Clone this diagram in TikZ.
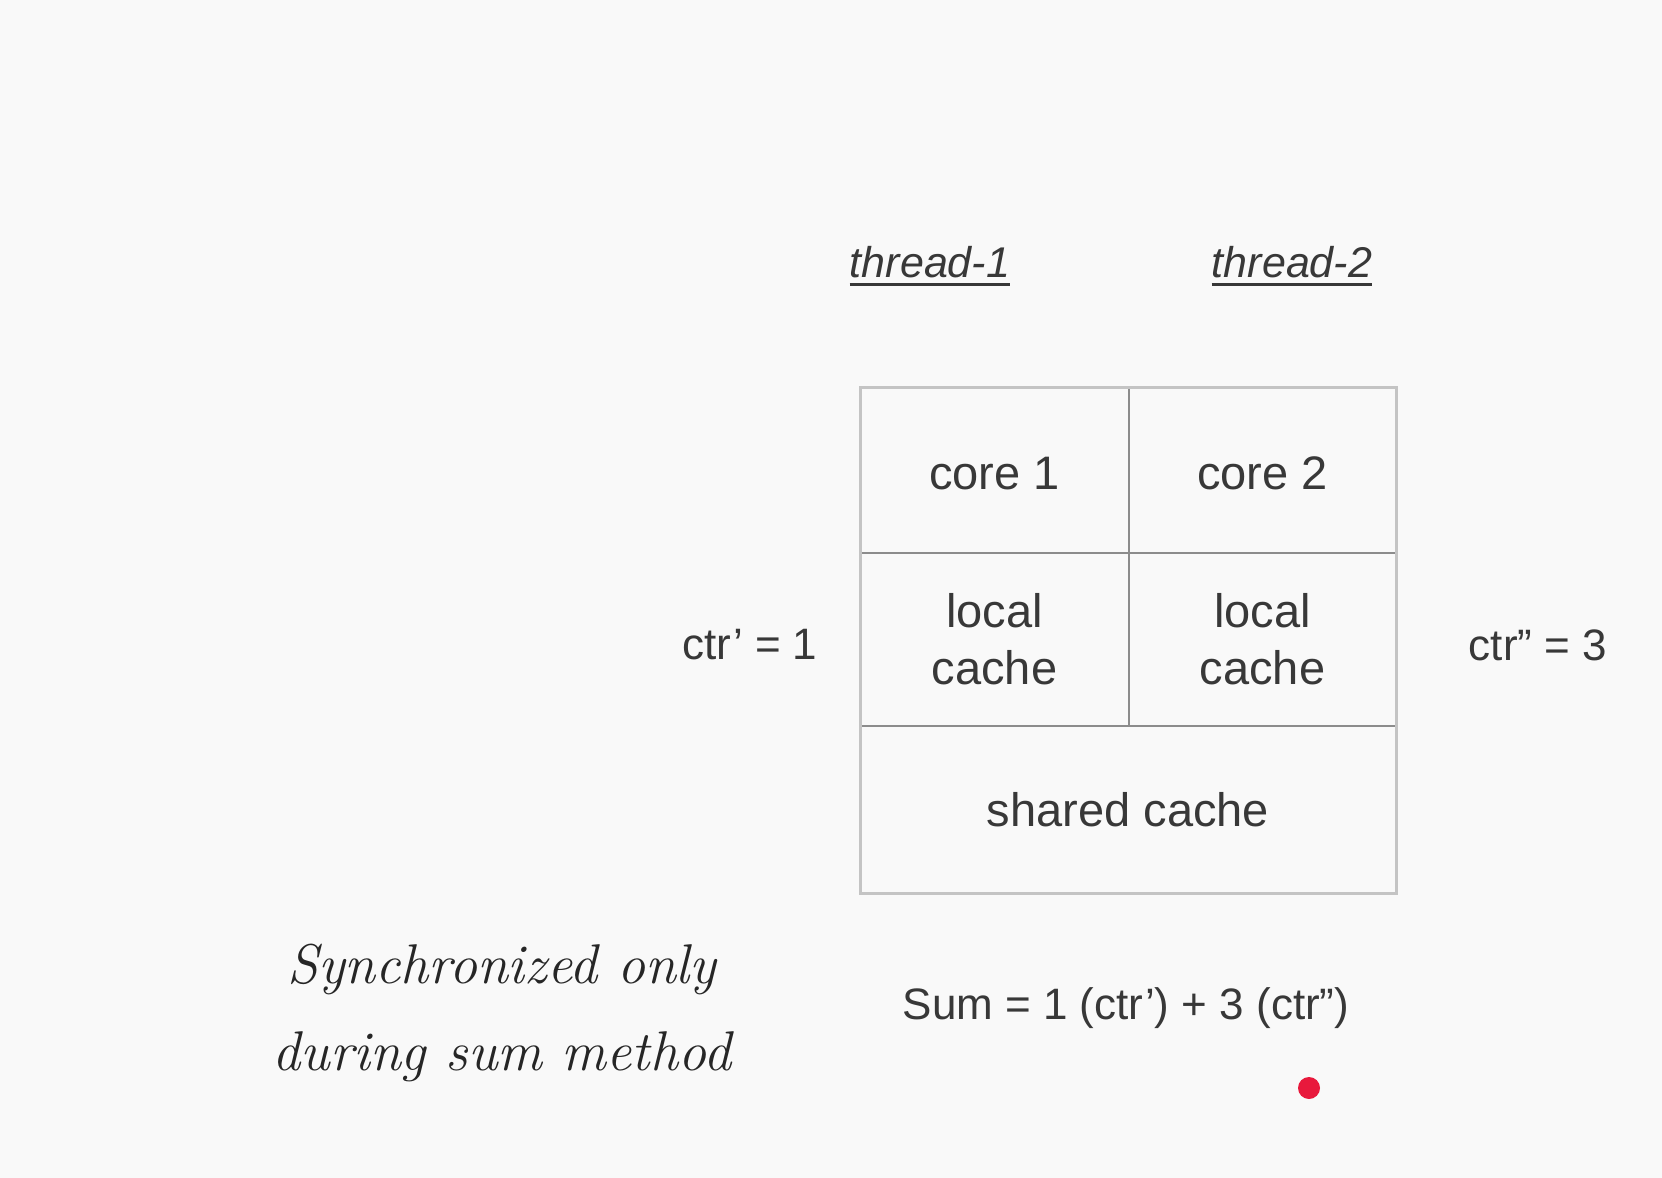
\documentclass[tikz,border=0pt]{standalone}
\usepackage{fontspec}
\setmainfont{Liberation Sans}
\newfontfamily\handfont{Latin Modern Roman}
\definecolor{bgc}{HTML}{F9F9F9}
\definecolor{txt}{HTML}{383838}
\definecolor{innerline}{HTML}{8C8C8C}
\definecolor{outerline}{HTML}{C4C4C4}
\definecolor{dotred}{HTML}{E8193C}
\begin{document}
\begin{tikzpicture}[x=0.5pt,y=-0.5pt,
  cell/.style={draw=innerline, line width=1pt, inner sep=0pt, outer sep=0pt, align=center,
     text=txt, font=\fontsize{23.5}{28.5}\selectfont},
  corecell/.style={cell, text height=19.8pt, text depth=0pt},
  threadlbl/.style={text=txt, inner sep=0pt, font=\fontsize{21.5}{26}\selectfont\itshape},
  ulline/.style={draw=txt, line width=1.5pt},
  sidelbl/.style={text=txt, inner sep=0pt, font=\fontsize{22}{26}\selectfont},
  handlbl/.style={text=black!85, inner sep=0pt, align=center, font=\fontsize{28}{43.5}\selectfont\handfont\itshape},
  reddot/.style={circle, fill=dotred, inner sep=0pt, minimum size=11pt}
]
\fill[bgc] (0,0) rectangle (1662,1178);
\useasboundingbox (0,0) rectangle (1662,1178);

% thread labels
\node[threadlbl] (t1) at (930,262) {thread-1};
\node[threadlbl] (t2) at (1292,262) {thread-2};
\draw[ulline] ([yshift=-3pt]t1.south west) -- ([yshift=-3pt]t1.south east);
\draw[ulline] ([yshift=-3pt]t2.south west) -- ([yshift=-3pt]t2.south east);

% grid cells
\node[corecell, minimum width=134.5pt, minimum height=83pt] (core1) at (994.5,470) {core 1};
\node[corecell, minimum width=133.5pt, minimum height=83pt] (core2) at (1262.5,470) {core 2};
\node[cell, minimum width=134.5pt, minimum height=86.5pt] (local1) at (994.5,639.5) {local\\cache};
\node[cell, minimum width=133.5pt, minimum height=86.5pt] (local2) at (1262.5,639.5) {local\\cache};
\node[cell, minimum width=268pt, minimum height=83.5pt] (shared) at (1128,809.5) {shared cache};
\draw[outerline, line width=1.5pt] (core1.north west) rectangle (shared.south east);

% side labels
\node[sidelbl] (ctr1) at (750,645) {ctr’ = 1};
\node[sidelbl] (ctr2) at (1538,645) {ctr” = 3};

% sum
\node[sidelbl] (sum) at (1126,1008) {Sum = 1 (ctr’) + 3 (ctr”)};

% handwritten note
\node[handlbl] (note) at (502,1013) {Synchronized only\\during sum method};

% red dot
\node[reddot] (dot) at (1309,1088) {};
\end{tikzpicture}
\end{document}
